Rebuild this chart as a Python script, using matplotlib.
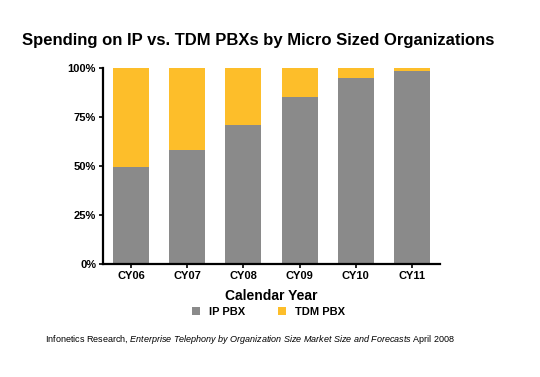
import matplotlib.pyplot as plt
import numpy as np

plt.rcParams['font.family'] = ['Liberation Sans', 'DejaVu Sans']
plt.rcParams['mathtext.fontset'] = 'custom'
plt.rcParams['mathtext.rm'] = 'Liberation Sans'
plt.rcParams['mathtext.it'] = 'Liberation Sans:italic'

years = ["CY06", "CY07", "CY08", "CY09", "CY10", "CY11"]
ip_pbx = [49.5, 58, 71, 85, 95, 98.5]
tdm_pbx = [100 - v for v in ip_pbx]

gray = "#8a8a8a"
yellow = "#fdbe2a"

fig = plt.figure(figsize=(5.4, 3.77), dpi=100)
ax = fig.add_axes([103 / 540, 1 - 264 / 377, 337 / 540, 196 / 377])

x = np.arange(len(years))
ax.bar(x, ip_pbx, width=0.64, color=gray, label="IP PBX")
ax.bar(x, tdm_pbx, width=0.64, bottom=ip_pbx, color=yellow, label="TDM PBX")

ax.set_xlim(-0.5, 5.5)
ax.set_ylim(0, 100)
ax.set_yticks([0, 25, 50, 75, 100])
ax.set_yticklabels(["0%", "25%", "50%", "75%", "100%"], fontweight="bold", fontsize=8)
ax.set_xticks(x)
ax.set_xticklabels(years, fontweight="bold", fontsize=8)
ax.tick_params(length=3, width=1.2, pad=2)
for s in ["top", "right"]:
    ax.spines[s].set_visible(False)
for s in ["left", "bottom"]:
    ax.spines[s].set_linewidth(1.6)

ax.set_xlabel("Calendar Year", fontweight="bold", fontsize=10, labelpad=6)

fig.text(258 / 540, 1 - 40 / 377, "Spending on IP vs. TDM PBXs by Micro Sized Organizations",
         ha="center", va="center", fontsize=12, fontweight="bold")

fig.legend(loc="center", bbox_to_anchor=(0.497, 1 - 312 / 377), ncol=2, frameon=False,
           prop={"weight": "bold", "size": 8}, handlelength=0.7, handleheight=0.7,
           columnspacing=3, handletextpad=0.8)

fig.text(45 / 540, 1 - 340 / 377,
         "Infonetics Research, $\\it{Enterprise\\ Telephony\\ by\\ Organization\\ Size\\ Market\\ Size\\ and\\ Forecasts}$ April 2008",
         ha="left", va="center", fontsize=6.5)

fig.savefig("out.png", dpi=100)
